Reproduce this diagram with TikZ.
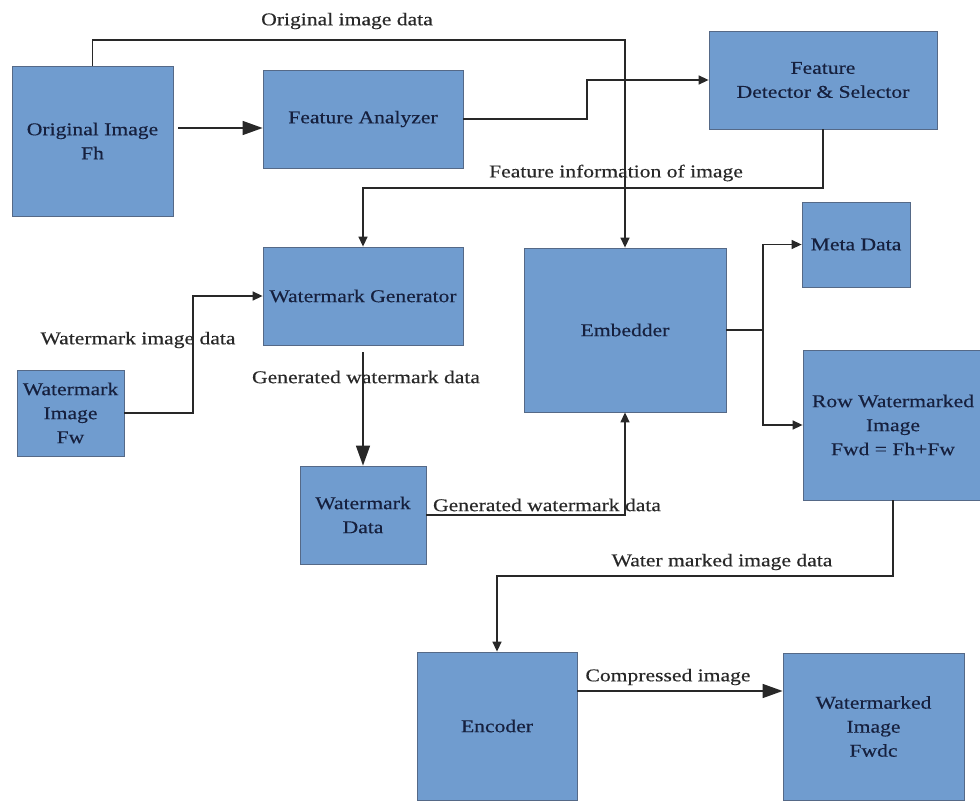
\documentclass[tikz,border=0pt]{standalone}
\usepackage{fontspec}
\setmainfont{Liberation Serif}[FakeStretch=1.2,FakeBold=0.4]
\usetikzlibrary{arrows.meta}
\definecolor{boxfill}{RGB}{112,156,207}
\definecolor{boxline}{RGB}{85,105,135}
\definecolor{boxtext}{RGB}{22,32,62}
\definecolor{labtext}{RGB}{40,40,40}
\definecolor{wire}{RGB}{40,40,40}
\begin{document}
\begin{tikzpicture}[x=1pt,y=-1pt,
  box/.style={draw=boxline, line width=0.8pt, fill=boxfill, text=boxtext, align=center, inner sep=0pt,
    font=\fontsize{18}{24}\selectfont},
  lab/.style={text=labtext, inner sep=0pt, font=\fontsize{18}{24}\selectfont},
  arr/.style={draw=wire, line width=1.4pt, -{Triangle[length=10pt,width=9pt]}},
  bigarr/.style={draw=wire, line width=1.4pt, -{Triangle[length=20pt,width=14pt]}}]
\useasboundingbox (0,0) rectangle (980,803);

% boxes
\node[box, minimum width=161pt, minimum height=150pt] (oi) at (92.5,141) {Original Image\\Fh};
\node[box, minimum width=200pt, minimum height=98pt] (fa) at (363,119) {Feature Analyzer};
\node[box, minimum width=228pt, minimum height=98pt] (fd) at (823,80) {Feature\\Detector \& Selector};
\node[box, minimum width=200pt, minimum height=98pt] (wg) at (363,296) {Watermark Generator};
\node[box, minimum width=107pt, minimum height=86pt] (wi) at (70.5,413) {Watermark\\Image\\Fw};
\node[box, minimum width=126pt, minimum height=98pt] (wd) at (363,515) {Watermark\\Data};
\node[box, minimum width=202pt, minimum height=164pt] (emb) at (625,330) {Embedder};
\node[box, minimum width=108pt, minimum height=85pt] (md) at (856,244.5) {Meta Data};
\node[box, minimum width=180pt, minimum height=150pt] (rw) at (893,425) {Row Watermarked\\Image\\Fwd = Fh+Fw};
\node[box, minimum width=160pt, minimum height=148pt] (enc) at (497,726) {Encoder};
\node[box, minimum width=181pt, minimum height=147pt] (wmi) at (873.5,726.5) {Watermarked\\Image\\Fwdc};

% bend points
\coordinate (c1) at (625,40);
\coordinate (c2) at (0,128);
\coordinate (c3) at (587,80);
\coordinate (c4) at (500,188);
\coordinate (c5) at (193,350);
\coordinate (c8a) at (763,300);
\coordinate (c8b) at (763,400);
\coordinate (c9) at (700,576);
\coordinate (c10) at (0,691);

% connectors
\draw[arr] (oi.north) |- (c1) -- (emb.north);
\draw[bigarr, shorten <=5pt] (oi.east |- c2) -- (fa.west |- c2);
\draw[arr] (fa.east) -| (c3) -- (fd.west);
\draw[arr] (fd.south) |- (c4) -| (wg.north);
\draw[arr] (wi.east) -| (c5) |- (wg.west);
\draw[bigarr, shorten <=7pt] (wg.south) -- (wd.north);
\draw[arr] (wd.east) -| (emb.south);
\draw[arr] (emb.east) -| (c8a) |- (md.west);
\draw[arr] (emb.east) -| (c8b) |- (rw.west);
\draw[arr] (rw.south) |- (c9) -| (enc.north);
\draw[bigarr] (enc.east |- c10) -- (wmi.west |- c10);

% labels
\node[lab] (l1) at (347,21) {Original image data};
\node[lab] (l2) at (616,173) {Feature information of image};
\node[lab] (l3) at (138,340) {Watermark image data};
\node[lab] (l4) at (366,377) {Generated watermark data};
\node[lab] (l5) at (547,505) {Generated watermark data};
\node[lab] (l6) at (722,562) {Water marked image data};
\node[lab] (l7) at (668,677) {Compressed image};
\end{tikzpicture}
\end{document}
